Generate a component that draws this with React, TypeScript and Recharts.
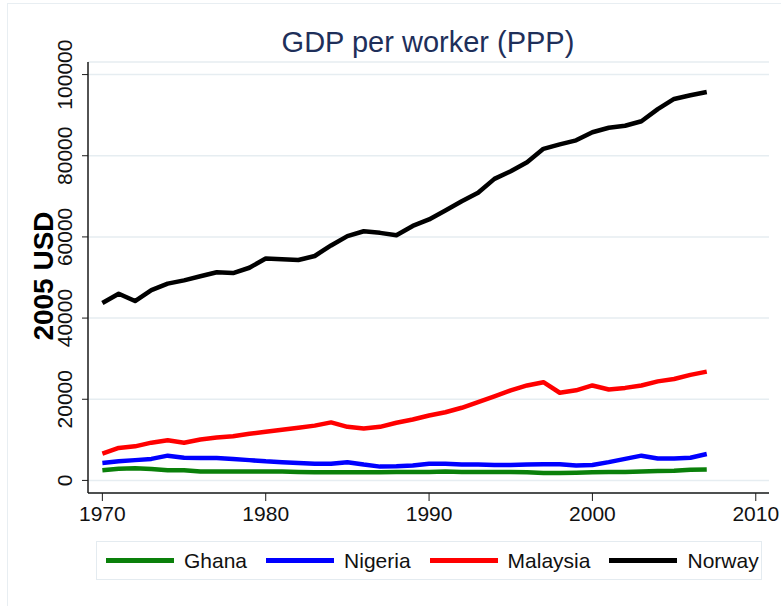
import React from "react";
import { LineChart, Line, XAxis, YAxis, CartesianGrid } from "recharts";

const years = [
  1970, 1971, 1972, 1973, 1974, 1975, 1976, 1977, 1978, 1979,
  1980, 1981, 1982, 1983, 1984, 1985, 1986, 1987, 1988, 1989,
  1990, 1991, 1992, 1993, 1994, 1995, 1996, 1997, 1998, 1999,
  2000, 2001, 2002, 2003, 2004, 2005, 2006, 2007,
];

const ghana = [
  2500, 2900, 3000, 2800, 2500, 2500, 2200, 2200, 2200, 2200,
  2200, 2200, 2100, 2000, 2000, 2000, 2000, 2000, 2100, 2100,
  2100, 2200, 2100, 2100, 2100, 2100, 2000, 1800, 1800, 1900,
  2000, 2100, 2100, 2200, 2300, 2400, 2600, 2700,
];

const nigeria = [
  4300, 4700, 5000, 5300, 6100, 5600, 5500, 5500, 5300, 5000,
  4700, 4500, 4300, 4100, 4100, 4500, 3900, 3400, 3500, 3700,
  4100, 4100, 3900, 3900, 3800, 3800, 3900, 4000, 4000, 3700,
  3800, 4500, 5300, 6100, 5400, 5400, 5600, 6500,
];

const malaysia = [
  6600, 8000, 8400, 9300, 9900, 9300, 10100, 10600, 10900, 11500,
  12000, 12500, 13000, 13500, 14300, 13200, 12800, 13200, 14200, 15000,
  16000, 16800, 17900, 19300, 20700, 22200, 23400, 24200, 21600, 22200,
  23400, 22400, 22800, 23400, 24400, 25000, 26000, 26800,
];

const norway = [
  43700, 46000, 44200, 46900, 48500, 49300, 50300, 51300, 51100, 52400,
  54700, 54500, 54300, 55300, 57900, 60200, 61400, 61000, 60400, 62700,
  64300, 66500, 68800, 70900, 74300, 76200, 78400, 81700, 82800, 83800,
  85800, 86900, 87400, 88500, 91500, 94000, 94900, 95700,
];

const xTicks = [1970, 1980, 1990, 2000, 2010];
const yTicks = [0, 20000, 40000, 60000, 80000, 100000];

const series = [
  { key: "Ghana", values: ghana, color: "#0a800a" },
  { key: "Nigeria", values: nigeria, color: "#0000ff" },
  { key: "Malaysia", values: malaysia, color: "#ff0000" },
  { key: "Norway", values: norway, color: "#000000" },
];

const data = years.map((year, i) => {
  const row: Record<string, number> = { year };
  series.forEach((s) => {
    row[s.key] = s.values[i];
  });
  return row;
});

const FONT = "'Liberation Sans', Arial, Helvetica, sans-serif";
const AXIS = "#1a1a1a";
const GRID = "#e6edf1";

function RotatedTick(props: any) {
  const { x, y, payload } = props;
  const tx = x - 8;
  return (
    <text
      x={tx}
      y={y}
      transform={`rotate(-90, ${tx}, ${y})`}
      textAnchor="middle"
      fontSize={21}
      fontFamily={FONT}
      fill="#111"
    >
      {payload.value}
    </text>
  );
}

export default function App() {
  return (
    <div
      style={{
        position: "absolute",
        left: 0,
        top: 0,
        width: 781,
        height: 606,
        background: "#fff",
        fontFamily: FONT,
        overflow: "hidden",
      }}
    >
      <div
        style={{
          position: "absolute",
          left: 7,
          top: 3,
          width: 800,
          height: 620,
          border: "1px solid #e8eef2",
        }}
      />
      <div
        style={{
          position: "absolute",
          left: 0,
          width: 856,
          top: 28,
          textAlign: "center",
          fontSize: 29,
          lineHeight: "29px",
          color: "#1e2f5a",
        }}
      >
        GDP per worker (PPP)
      </div>

      <div style={{ position: "absolute", left: 0, top: 0 }}>
        <LineChart
          width={781}
          height={606}
          data={data}
          margin={{ top: 62, right: 12, left: 28, bottom: 83 }}
        >
          <CartesianGrid horizontal vertical={false} stroke={GRID} strokeWidth={1.5} />
          <XAxis
            dataKey="year"
            type="number"
            domain={[1969.12, 2010.81]}
            ticks={xTicks}
            allowDataOverflow
            height={30}
            tickSize={8}
            tickMargin={5}
            stroke={AXIS}
            tickLine={{ stroke: AXIS }}
            axisLine={{ stroke: AXIS, strokeWidth: 1.5 }}
            tick={{ fontSize: 21, fill: "#111", fontFamily: FONT }}
          />
          <XAxis
            xAxisId="top"
            dataKey="year"
            type="number"
            orientation="top"
            domain={[1969.12, 2010.81]}
            allowDataOverflow
            height={0}
            tick={false}
            tickLine={false}
            axisLine={{ stroke: AXIS, strokeWidth: 1.5 }}
          />
          <YAxis
            type="number"
            domain={[-3100, 103100]}
            ticks={yTicks}
            allowDataOverflow
            width={60}
            tickSize={6}
            stroke={AXIS}
            tickLine={{ stroke: AXIS }}
            axisLine={{ stroke: AXIS, strokeWidth: 1.5 }}
            tick={<RotatedTick />}
            label={{
              content: () => (
                <text
                  x={53}
                  y={276}
                  transform="rotate(-90, 53, 276)"
                  textAnchor="middle"
                  fontSize={28}
                  fontWeight="bold"
                  fontFamily={FONT}
                  fill="#000"
                >
                  2005 USD
                </text>
              ),
            }}
          />
          <YAxis
            yAxisId="right"
            orientation="right"
            type="number"
            domain={[-3100, 103100]}
            width={0}
            tick={false}
            tickLine={false}
            axisLine={{ stroke: AXIS, strokeWidth: 1.5 }}
          />
          {series.map((s) => (
            <Line
              key={s.key}
              dataKey={s.key}
              stroke={s.color}
              strokeWidth={4.5}
              strokeLinejoin="round"
              dot={false}
              activeDot={false}
              isAnimationActive={false}
            />
          ))}
        </LineChart>
      </div>

      <div
        style={{
          position: "absolute",
          left: 96,
          top: 541,
          width: 666,
          height: 39,
          boxSizing: "border-box",
          border: "1px solid #e4ebf0",
          display: "flex",
          alignItems: "center",
          paddingLeft: 9,
        }}
      >
        {series.map((s) => (
          <div
            key={s.key}
            style={{ display: "flex", alignItems: "center", marginRight: 19 }}
          >
            <div style={{ width: 68, height: 5, background: s.color, marginRight: 10 }} />
            <span style={{ fontSize: 21, color: "#111", whiteSpace: "nowrap" }}>{s.key}</span>
          </div>
        ))}
      </div>
    </div>
  );
}
